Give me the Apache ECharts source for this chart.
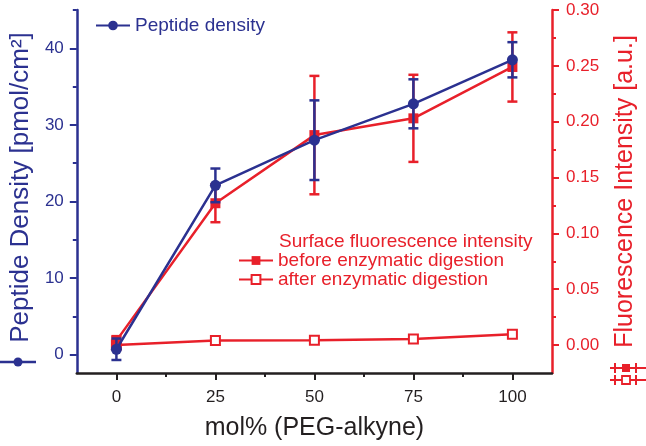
<!DOCTYPE html>
<html>
<head>
<meta charset="utf-8">
<script src="https://cdn.jsdelivr.net/npm/echarts@6/dist/echarts.min.js"></script>
<style>html,body{margin:0;padding:0;background:#fff;}#c{width:646px;height:446px;}</style>
</head>
<body>
<div id="c"></div>
<script>
// ---- data ----
const xValues = [0, 25, 50, 75, 100];
const peptideDensity = [0.7, 22.1, 28.0, 32.75, 38.5];
const peptideErr = [1.4, 2.2, 5.2, 3.2, 2.3];
const fluorBefore = [0.004, 0.127, 0.188, 0.203, 0.249];
const fluorBeforeErr = [0.004, 0.017, 0.053, 0.039, 0.031];
const fluorAfter = [0.000, 0.004, 0.0044, 0.0055, 0.0096];
const xTicks = [0, 25, 50, 75, 100];
const xMinorTicks = [12.5, 37.5, 62.5, 87.5];
const leftTicks = [0, 10, 20, 30, 40];
const leftMinorTicks = [5, 15, 25, 35, 45];
const rightTicks = [0, 0.05, 0.10, 0.15, 0.20, 0.25, 0.30];
const rightMinorTicks = [0.025, 0.075, 0.125, 0.175, 0.225, 0.275];

const BLUE = '#2B3190';
const RED = '#E8202A';
const BLACK = '#231F20';
const FONT = '"Liberation Sans", Arial, Helvetica, sans-serif';

const X_MIN = -10, X_MAX = 110;
const L_MIN = -2.4, L_MAX = 45;
const R_MIN = -0.025, R_MAX = 0.30;

function pairs(xs, ys) { return xs.map((x, i) => [x, ys[i]]); }
function errData(xs, ys, es) { return xs.map((x, i) => [x, ys[i] - es[i], ys[i] + es[i]]); }

function errRender(color) {
  return function (params, api) {
    const x = api.value(0), lo = api.value(1), hi = api.value(2);
    const p1 = api.coord([x, lo]), p2 = api.coord([x, hi]);
    const w = 5;
    const st = { stroke: color, lineWidth: 2.5 };
    return {
      type: 'group',
      children: [
        { type: 'line', shape: { x1: p1[0], y1: p1[1], x2: p2[0], y2: p2[1] }, style: st },
        { type: 'line', shape: { x1: p1[0] - w, y1: p1[1], x2: p1[0] + w, y2: p1[1] }, style: st },
        { type: 'line', shape: { x1: p2[0] - w, y1: p2[1], x2: p2[0] + w, y2: p2[1] }, style: st }
      ]
    };
  };
}

const chart = echarts.init(document.getElementById('c'), null, { renderer: 'canvas' });

const option = {
  backgroundColor: '#fff',
  animation: false,
  textStyle: { fontFamily: FONT },
  grid: { left: 73, right: 89, top: 10, bottom: 65, containLabel: false },
  legend: [
    {
      data: ['Peptide density'],
      left: 95, top: 16, padding: 0,
      itemWidth: 34, itemHeight: 12, itemGap: 0,
      textStyle: { color: BLUE, fontSize: 19, fontFamily: FONT }
    },
    {
      data: ['before enzymatic digestion', 'after enzymatic digestion'],
      orient: 'vertical',
      left: 238, top: 251, padding: 0,
      itemWidth: 34, itemHeight: 11, itemGap: 0,
      textStyle: { color: RED, fontSize: 19, fontFamily: FONT }
    }
  ],
  xAxis: [
    {
      type: 'value', min: X_MIN, max: X_MAX,
      name: 'mol% (PEG-alkyne)', nameLocation: 'middle', nameGap: 43,
      nameTextStyle: { color: BLACK, fontSize: 25, fontFamily: FONT },
      axisLine: { show: true, onZero: false, lineStyle: { color: BLACK, width: 2.5 } },
      axisTick: { show: true, inside: false, length: 7, customValues: xTicks, lineStyle: { color: BLACK, width: 2 } },
      axisLabel: { show: true, customValues: xTicks, margin: 16, color: BLACK, fontSize: 17, fontFamily: FONT },
      splitLine: { show: false }
    },
    {
      type: 'value', min: X_MIN, max: X_MAX, position: 'bottom',
      axisLine: { show: false, onZero: false },
      axisTick: { show: true, length: 4, customValues: xMinorTicks, lineStyle: { color: BLACK, width: 2 } },
      axisLabel: { show: false },
      splitLine: { show: false }
    }
  ],
  yAxis: [
    {
      type: 'value', min: L_MIN, max: L_MAX, position: 'left',
      name: 'Peptide Density [pmol/cm²]', nameLocation: 'middle', nameRotate: 90, nameGap: 40,
      nameTextStyle: { color: BLUE, fontSize: 26, fontFamily: FONT, padding: [0, 0, 0, 8] },
      axisLine: { show: true, onZero: false, lineStyle: { color: BLUE, width: 2.5 } },
      axisTick: { show: true, length: 7, customValues: leftTicks, lineStyle: { color: BLUE, width: 2 } },
      axisLabel: { show: true, customValues: leftTicks, margin: 13, color: BLUE, fontSize: 17, fontFamily: FONT },
      splitLine: { show: false }
    },
    {
      type: 'value', min: R_MIN, max: R_MAX, position: 'right',
      name: 'Fluorescence Intensity [a.u.]', nameLocation: 'middle', nameRotate: 90, nameGap: 61,
      nameTextStyle: { color: RED, fontSize: 25, fontFamily: FONT },
      axisLine: { show: true, onZero: false, lineStyle: { color: RED, width: 2.5 } },
      axisTick: { show: true, length: 7, customValues: rightTicks, lineStyle: { color: RED, width: 2 } },
      axisLabel: { show: true, customValues: rightTicks, margin: 14, color: RED, fontSize: 17, fontFamily: FONT,
        formatter: v => v.toFixed(2) },
      splitLine: { show: false }
    },
    {
      type: 'value', min: L_MIN, max: L_MAX, position: 'left',
      axisLine: { show: false, onZero: false },
      axisTick: { show: true, length: 4, customValues: leftMinorTicks, lineStyle: { color: BLUE, width: 2 } },
      axisLabel: { show: false }, splitLine: { show: false }
    },
    {
      type: 'value', min: R_MIN, max: R_MAX, position: 'right',
      axisLine: { show: false, onZero: false },
      axisTick: { show: true, length: 4, customValues: rightMinorTicks, lineStyle: { color: RED, width: 2 } },
      axisLabel: { show: false }, splitLine: { show: false }
    }
  ],
  graphic: [
    {
      type: 'text', left: 279, top: 232, silent: true,
      style: { text: 'Surface fluorescence intensity', fill: RED, font: '19px ' + FONT }
    },
    // axis-title series symbols
    { type: 'line', shape: { x1: 0, y1: 362, x2: 36, y2: 362 }, style: { stroke: BLUE, lineWidth: 2.5 }, silent: true },
    { type: 'circle', shape: { cx: 18, cy: 362, r: 4.5 }, style: { fill: BLUE }, silent: true },
    { type: 'line', shape: { x1: 610, y1: 368, x2: 646, y2: 368 }, style: { stroke: RED, lineWidth: 2 }, silent: true },
    { type: 'line', shape: { x1: 615, y1: 363, x2: 615, y2: 373 }, style: { stroke: RED, lineWidth: 2 }, silent: true },
    { type: 'line', shape: { x1: 636, y1: 363, x2: 636, y2: 373 }, style: { stroke: RED, lineWidth: 2 }, silent: true },
    { type: 'rect', shape: { x: 622, y: 364, width: 8, height: 8 }, style: { fill: RED }, silent: true },
    { type: 'line', shape: { x1: 610, y1: 380, x2: 646, y2: 380 }, style: { stroke: RED, lineWidth: 2 }, silent: true },
    { type: 'line', shape: { x1: 615, y1: 375, x2: 615, y2: 385 }, style: { stroke: RED, lineWidth: 2 }, silent: true },
    { type: 'line', shape: { x1: 636, y1: 375, x2: 636, y2: 385 }, style: { stroke: RED, lineWidth: 2 }, silent: true },
    { type: 'rect', shape: { x: 622, y: 376, width: 8, height: 8 }, style: { fill: '#fff', stroke: RED, lineWidth: 1.8 }, silent: true }
  ],
  series: [
    {
      name: 'after enzymatic digestion', type: 'line', xAxisIndex: 0, yAxisIndex: 1,
      data: pairs(xValues, fluorAfter),
      symbol: 'rect', symbolSize: 9, showAllSymbol: true,
      lineStyle: { color: RED, width: 2.5 },
      itemStyle: { color: '#fff', borderColor: RED, borderWidth: 2 },
      z: 2
    },
    {
      name: 'before-err', type: 'custom', xAxisIndex: 0, yAxisIndex: 1,
      data: errData(xValues, fluorBefore, fluorBeforeErr),
      encode: { x: 0, y: [1, 2] },
      renderItem: errRender(RED), z: 3, silent: true
    },
    {
      name: 'before enzymatic digestion', type: 'line', xAxisIndex: 0, yAxisIndex: 1,
      data: pairs(xValues, fluorBefore),
      symbol: 'rect', symbolSize: 10,
      lineStyle: { color: RED, width: 2.5 },
      itemStyle: { color: RED, borderColor: RED, borderWidth: 0 },
      z: 4
    },
    {
      name: 'peptide-err', type: 'custom', xAxisIndex: 0, yAxisIndex: 0,
      data: errData(xValues, peptideDensity, peptideErr),
      encode: { x: 0, y: [1, 2] },
      renderItem: errRender(BLUE), z: 5, silent: true
    },
    {
      name: 'Peptide density', type: 'line', xAxisIndex: 0, yAxisIndex: 0,
      data: pairs(xValues, peptideDensity),
      symbol: 'circle', symbolSize: 11,
      lineStyle: { color: BLUE, width: 2.5 },
      itemStyle: { color: BLUE },
      z: 6
    }
  ]
};
chart.setOption(option);
</script>
</body>
</html>
